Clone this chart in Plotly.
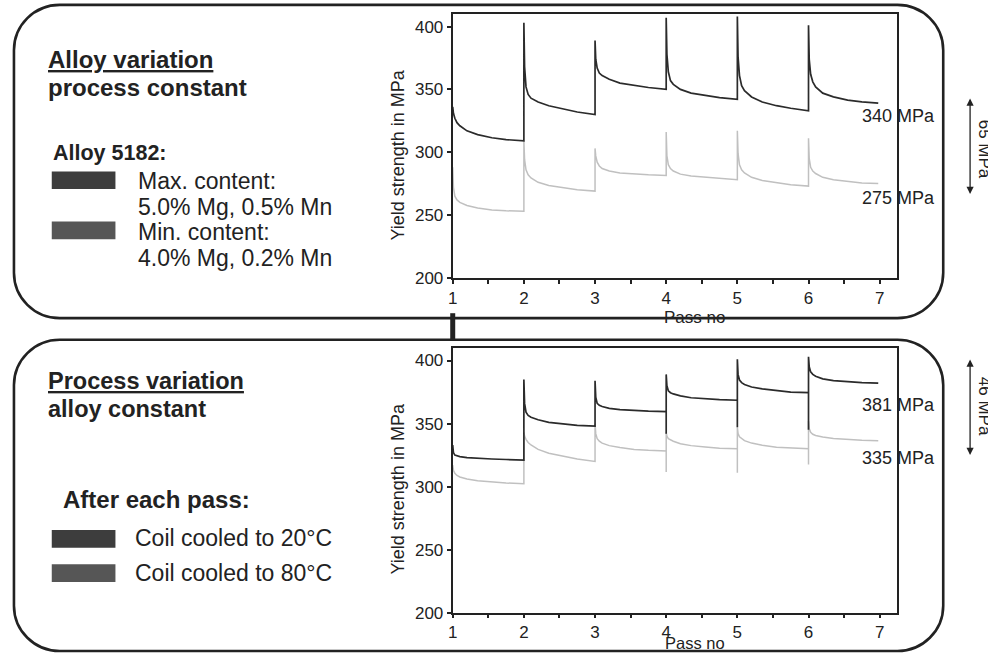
import plotly.graph_objects as go

W, H = 988, 664

# ---------------- data ----------------
pass_ticks = [1, 1.5, 2, 2.5, 3, 3.5, 4, 4.5, 5, 5.5, 6, 6.5, 7]
pass_labels = ["1", "", "2", "", "3", "", "4", "", "5", "", "6", "", "7"]
ys_ticks = [200, 250, 300, 350, 400]

# Top panel: alloy variation (x = pass number)
top_x = [1.00, 1.01, 1.03, 1.06, 1.10, 1.20, 1.35, 1.55, 1.75, 2.00,
         2.00, 2.01, 2.03, 2.06, 2.10, 2.20, 2.35, 2.55, 2.75, 3.00,
         3.00, 3.01, 3.03, 3.06, 3.10, 3.20, 3.35, 3.55, 3.75, 4.00,
         4.00, 4.01, 4.03, 4.06, 4.10, 4.20, 4.35, 4.55, 4.75, 5.00,
         5.00, 5.01, 5.03, 5.06, 5.10, 5.20, 5.35, 5.55, 5.75, 6.00,
         6.00, 6.01, 6.03, 6.06, 6.10, 6.20, 6.35, 6.55, 6.75, 6.98]
max_content = [336, 331, 327, 323.5, 321, 317, 314, 311.5, 310, 309,
               403, 368, 352, 346, 343, 340, 337, 334.5, 332, 330,
               389, 374, 367, 363, 361, 358, 355, 353, 351.5, 350,
               407, 378, 364, 357, 354, 350, 347, 345, 343.5, 342,
               408, 376, 361, 353, 349, 344, 340, 337, 335, 333,
               401, 374, 362, 356, 352, 347, 344, 341.5, 340, 339]
min_content = [288, 272, 265, 262, 260, 257.5, 255.5, 254, 253.3, 253,
               309, 294, 286, 282, 279.5, 276, 273.5, 271.5, 270, 269,
               303, 297, 292, 289, 287, 285, 283.5, 282.5, 282, 281.5,
               316, 297, 290, 287, 285, 282.5, 281, 280, 279, 278,
               317, 299, 290, 286, 283.5, 280, 277.5, 275.5, 274, 273,
               311, 295, 288, 285, 283, 280, 278, 276.5, 275.5, 275]

# Bottom panel: process variation
bot_x = [1.00, 1.01, 1.03, 1.06, 1.10, 1.20, 1.35, 1.55, 1.75, 2.00,
         2.00, 2.01, 2.03, 2.06, 2.10, 2.20, 2.35, 2.55, 2.75, 3.00,
         3.00, 3.01, 3.03, 3.06, 3.10, 3.20, 3.35, 3.55, 3.75, 4.00,
         4.00, 4.00, 4.01, 4.03, 4.06, 4.10, 4.20, 4.35, 4.55, 4.75, 5.00,
         5.00, 5.00, 5.01, 5.03, 5.06, 5.10, 5.20, 5.35, 5.55, 5.75, 6.00,
         6.00, 6.00, 6.01, 6.03, 6.06, 6.10, 6.20, 6.35, 6.55, 6.75, 6.98]
cooled_20 = [333, 327, 325, 324.3, 323.8, 323, 322.4, 321.9, 321.5, 321,
             385, 366, 359, 356.5, 355, 353, 351, 349.5, 348.5, 348,
             384, 371, 366, 364.5, 363.5, 362, 361, 360.3, 359.8, 359.5,
             342, 389, 380, 376, 374.5, 373.5, 372, 370.5, 369.5, 369, 368.5,
             347, 401, 389, 384.5, 382.5, 381, 379, 377.5, 376, 375, 374.5,
             345, 403, 395, 391, 389, 387.5, 385.5, 384, 383, 382.5, 382]
cooled_80 = [317, 313, 310.5, 308.8, 307.6, 306, 304.6, 303.5, 302.8, 302.3,
             343, 340, 337.5, 335, 333, 329.5, 326.5, 324, 321.8, 320,
             350, 342, 338, 336, 334.5, 332.5, 331, 329.5, 328.8, 328.3,
             311.5, 343, 340, 338, 337, 336, 334, 332.5, 331.5, 330.5, 330,
             311, 347, 342, 339.5, 338, 336.5, 334.5, 332.8, 331.3, 330.5, 330,
             317.5, 352, 346, 343, 341.5, 340.5, 339.3, 338.2, 337.3, 336.7, 336.3]

end_labels_top = ["340 MPa", "275 MPa"]
end_labels_bot = ["381 MPa", "335 MPa"]
diff_top = "65 MPa"
diff_bot = "46 MPa"

# ---------------- styling helpers ----------------
FONT = "Liberation Sans, Arial, Helvetica, sans-serif"
INK = "#222222"
DARK = "#2b2b2b"
LIGHT = "#c0c0c0"


def px(x):
    return x / W


def py(y):
    return 1 - y / H


def rounded_rect(x0, y0, x1, y1, r):
    k = 0.5523 * r
    pts = [
        ("M", [(x0 + r, y0)]),
        ("L", [(x1 - r, y0)]),
        ("C", [(x1 - r + k, y0), (x1, y0 + r - k), (x1, y0 + r)]),
        ("L", [(x1, y1 - r)]),
        ("C", [(x1, y1 - r + k), (x1 - r + k, y1), (x1 - r, y1)]),
        ("L", [(x0 + r, y1)]),
        ("C", [(x0 + r - k, y1), (x0, y1 - r + k), (x0, y1 - r)]),
        ("L", [(x0, y0 + r)]),
        ("C", [(x0, y0 + r - k), (x0 + r - k, y0), (x0 + r, y0)]),
    ]
    s = ""
    for cmd, pp in pts:
        s += cmd + " " + " ".join(f"{px(a):.5f},{py(b):.5f}" for a, b in pp) + " "
    return s + "Z"


fig = go.Figure()

fig.add_trace(go.Scatter(x=top_x, y=min_content, mode="lines",
                         line=dict(color=LIGHT, width=1.5), xaxis="x", yaxis="y"))
fig.add_trace(go.Scatter(x=top_x, y=max_content, mode="lines",
                         line=dict(color=DARK, width=1.7), xaxis="x", yaxis="y"))
fig.add_trace(go.Scatter(x=bot_x, y=cooled_80, mode="lines",
                         line=dict(color=LIGHT, width=1.5), xaxis="x2", yaxis="y2"))
fig.add_trace(go.Scatter(x=bot_x, y=cooled_20, mode="lines",
                         line=dict(color=DARK, width=1.7), xaxis="x2", yaxis="y2"))

xdom = [px(450), px(897)]
axis_common = dict(showline=True, linewidth=2, linecolor=INK, mirror=True,
                   showgrid=False, zeroline=False, ticks="outside",
                   tickcolor=INK, tickwidth=1.5,
                   tickfont=dict(family=FONT, size=17, color=INK))

fig.update_layout(
    width=W, height=H, autosize=False,
    margin=dict(l=0, r=0, t=0, b=0),
    paper_bgcolor="white", plot_bgcolor="white",
    showlegend=False,
    font=dict(family=FONT, color=INK),
    xaxis=dict(domain=xdom, range=[1, 7.25], tickvals=pass_ticks, ticktext=pass_labels,
               ticklen=4, anchor="y", **axis_common),
    yaxis=dict(domain=[py(282), py(14)], range=[200, 410.2], tickvals=ys_ticks,
               ticklen=4, anchor="x", **axis_common),
    xaxis2=dict(domain=xdom, range=[1, 7.25], tickvals=pass_ticks, ticktext=pass_labels,
                ticklen=3, anchor="y2", **axis_common),
    yaxis2=dict(domain=[py(622), py(353)], range=[200, 410.2], tickvals=ys_ticks,
                ticklen=4, anchor="x2", **axis_common),
)

# rounded frames and connector
shapes = [
    dict(type="path", path=rounded_rect(9, 5, 943, 323, 46), xref="paper", yref="paper",
         line=dict(color=INK, width=2.6)),
    dict(type="path", path=rounded_rect(9, 345, 943, 661, 46), xref="paper", yref="paper",
         line=dict(color=INK, width=2.6)),
    dict(type="line", x0=px(450), x1=px(450), y0=py(318), y1=py(346), xref="paper", yref="paper",
         line=dict(color=INK, width=5)),
    # legend swatches
    dict(type="rect", x0=px(47), x1=px(111), y0=py(192), y1=py(174), xref="paper", yref="paper",
         fillcolor="#3d3d3d", line=dict(width=0)),
    dict(type="rect", x0=px(47), x1=px(111), y0=py(243), y1=py(225), xref="paper", yref="paper",
         fillcolor="#565656", line=dict(width=0)),
    dict(type="rect", x0=px(47), x1=px(111), y0=py(556), y1=py(538), xref="paper", yref="paper",
         fillcolor="#3d3d3d", line=dict(width=0)),
    dict(type="rect", x0=px(47), x1=px(111), y0=py(591), y1=py(573), xref="paper", yref="paper",
         fillcolor="#565656", line=dict(width=0)),
]
fig.update_layout(shapes=shapes)


def text(x, y, s, size, anchor="left", angle=0):
    fig.add_annotation(x=px(x), y=py(y), xref="paper", yref="paper", text=s,
                       showarrow=False, xanchor=anchor, yanchor="middle",
                       textangle=angle, borderpad=0,
                       font=dict(family=FONT, size=size, color=INK))


# left panel texts
text(42, 60, "<u><b>Alloy variation</b></u>", 24)
text(42, 89, "<b>process constant</b>", 24)
text(47, 155, "<b>Alloy 5182:</b>", 21.5)
text(133, 184, "Max. content:", 23)
text(133, 210, "5.0% Mg, 0.5% Mn", 23)
text(133, 236, "Min. content:", 23)
text(133, 262, "4.0% Mg, 0.2% Mn", 23)

text(42, 387, "<u><b>Process variation</b></u>", 23.5)
text(42, 415, "<b>alloy constant</b>", 23.5)
text(57, 507, "<b>After each pass:</b>", 24)
text(130, 546, "Coil cooled to 20°C", 23)
text(130, 582, "Coil cooled to 80°C", 23)

# axis titles
text(395, 158, "Yield strength in MPa", 18, anchor="center", angle=-90)
text(395, 497, "Yield strength in MPa", 18, anchor="center", angle=-90)
text(661, 322, "Pass no", 17)
text(662, 653, "Pass no", 16.5)

# end values
text(860, 118, end_labels_top[0], 18)
text(860, 201, end_labels_top[1], 18)
text(860, 411, end_labels_bot[0], 18)
text(860, 465, end_labels_bot[1], 18)

# difference arrows
for ytop in (100, 365):
    fig.add_annotation(x=px(970), y=py(ytop), xref="paper", yref="paper",
                       ax=0, ay=97, text="", showarrow=True,
                       arrowside="end+start", arrowhead=2, arrowsize=1.1,
                       arrowwidth=1.3, arrowcolor=INK, standoff=0, startstandoff=0)
text(984, 151, diff_top, 17, anchor="center", angle=90)
text(984, 412, diff_bot, 17, anchor="center", angle=90)

fig.write_html("out.html")
